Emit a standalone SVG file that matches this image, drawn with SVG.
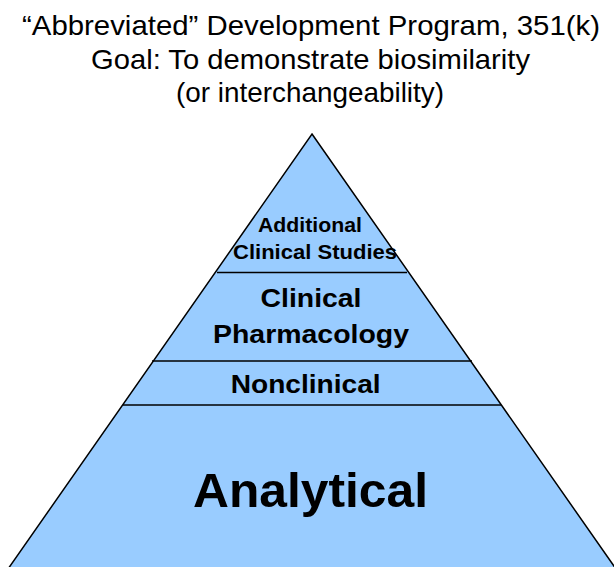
<svg xmlns="http://www.w3.org/2000/svg" width="614" height="567" viewBox="0 0 614 567">
<style>
.title{font-family:"Liberation Sans",Arial,sans-serif;font-size:28px;fill:#000;text-anchor:middle}
.lbl{font-family:"Liberation Sans",Arial,sans-serif;font-weight:bold;fill:#000;text-anchor:middle}
.div{stroke:#000;stroke-width:1.5;fill:none}
</style>
<rect width="614" height="567" fill="#fff"/>
<g id="title">
<text class="title" x="311" y="35" textLength="578" lengthAdjust="spacingAndGlyphs">“Abbreviated” Development Program, 351(k)</text>
<text class="title" x="310.5" y="69" textLength="439" lengthAdjust="spacingAndGlyphs">Goal: To demonstrate biosimilarity</text>
<text class="title" x="310" y="102" textLength="268" lengthAdjust="spacingAndGlyphs">(or interchangeability)</text>
</g>
<g id="pyramid">
<polygon points="312,134 616,569 8,569" fill="#99ccff" stroke="#000" stroke-width="1.5"/>
</g>
<g id="connectors">
<line class="div" x1="217" y1="272.5" x2="407" y2="272.5"/>
<line class="div" x1="152" y1="361" x2="472" y2="361"/>
<line class="div" x1="123" y1="405" x2="501" y2="405"/>
</g>
<g id="node-additional">
<text class="lbl" x="310" y="232" font-size="21" textLength="104" lengthAdjust="spacingAndGlyphs">Additional</text>
<text class="lbl" x="315" y="258.5" font-size="21" textLength="164" lengthAdjust="spacingAndGlyphs">Clinical Studies</text>
</g>
<g id="node-clinpharm">
<text class="lbl" x="311" y="307" font-size="26" textLength="101" lengthAdjust="spacingAndGlyphs">Clinical</text>
<text class="lbl" x="311" y="342.5" font-size="26" textLength="196" lengthAdjust="spacingAndGlyphs">Pharmacology</text>
</g>
<g id="node-nonclinical">
<text class="lbl" x="305.7" y="392.5" font-size="26" textLength="150" lengthAdjust="spacingAndGlyphs">Nonclinical</text>
</g>
<g id="node-analytical">
<text class="lbl" x="310.5" y="507" font-size="49" textLength="235" lengthAdjust="spacingAndGlyphs">Analytical</text>
</g>
</svg>
